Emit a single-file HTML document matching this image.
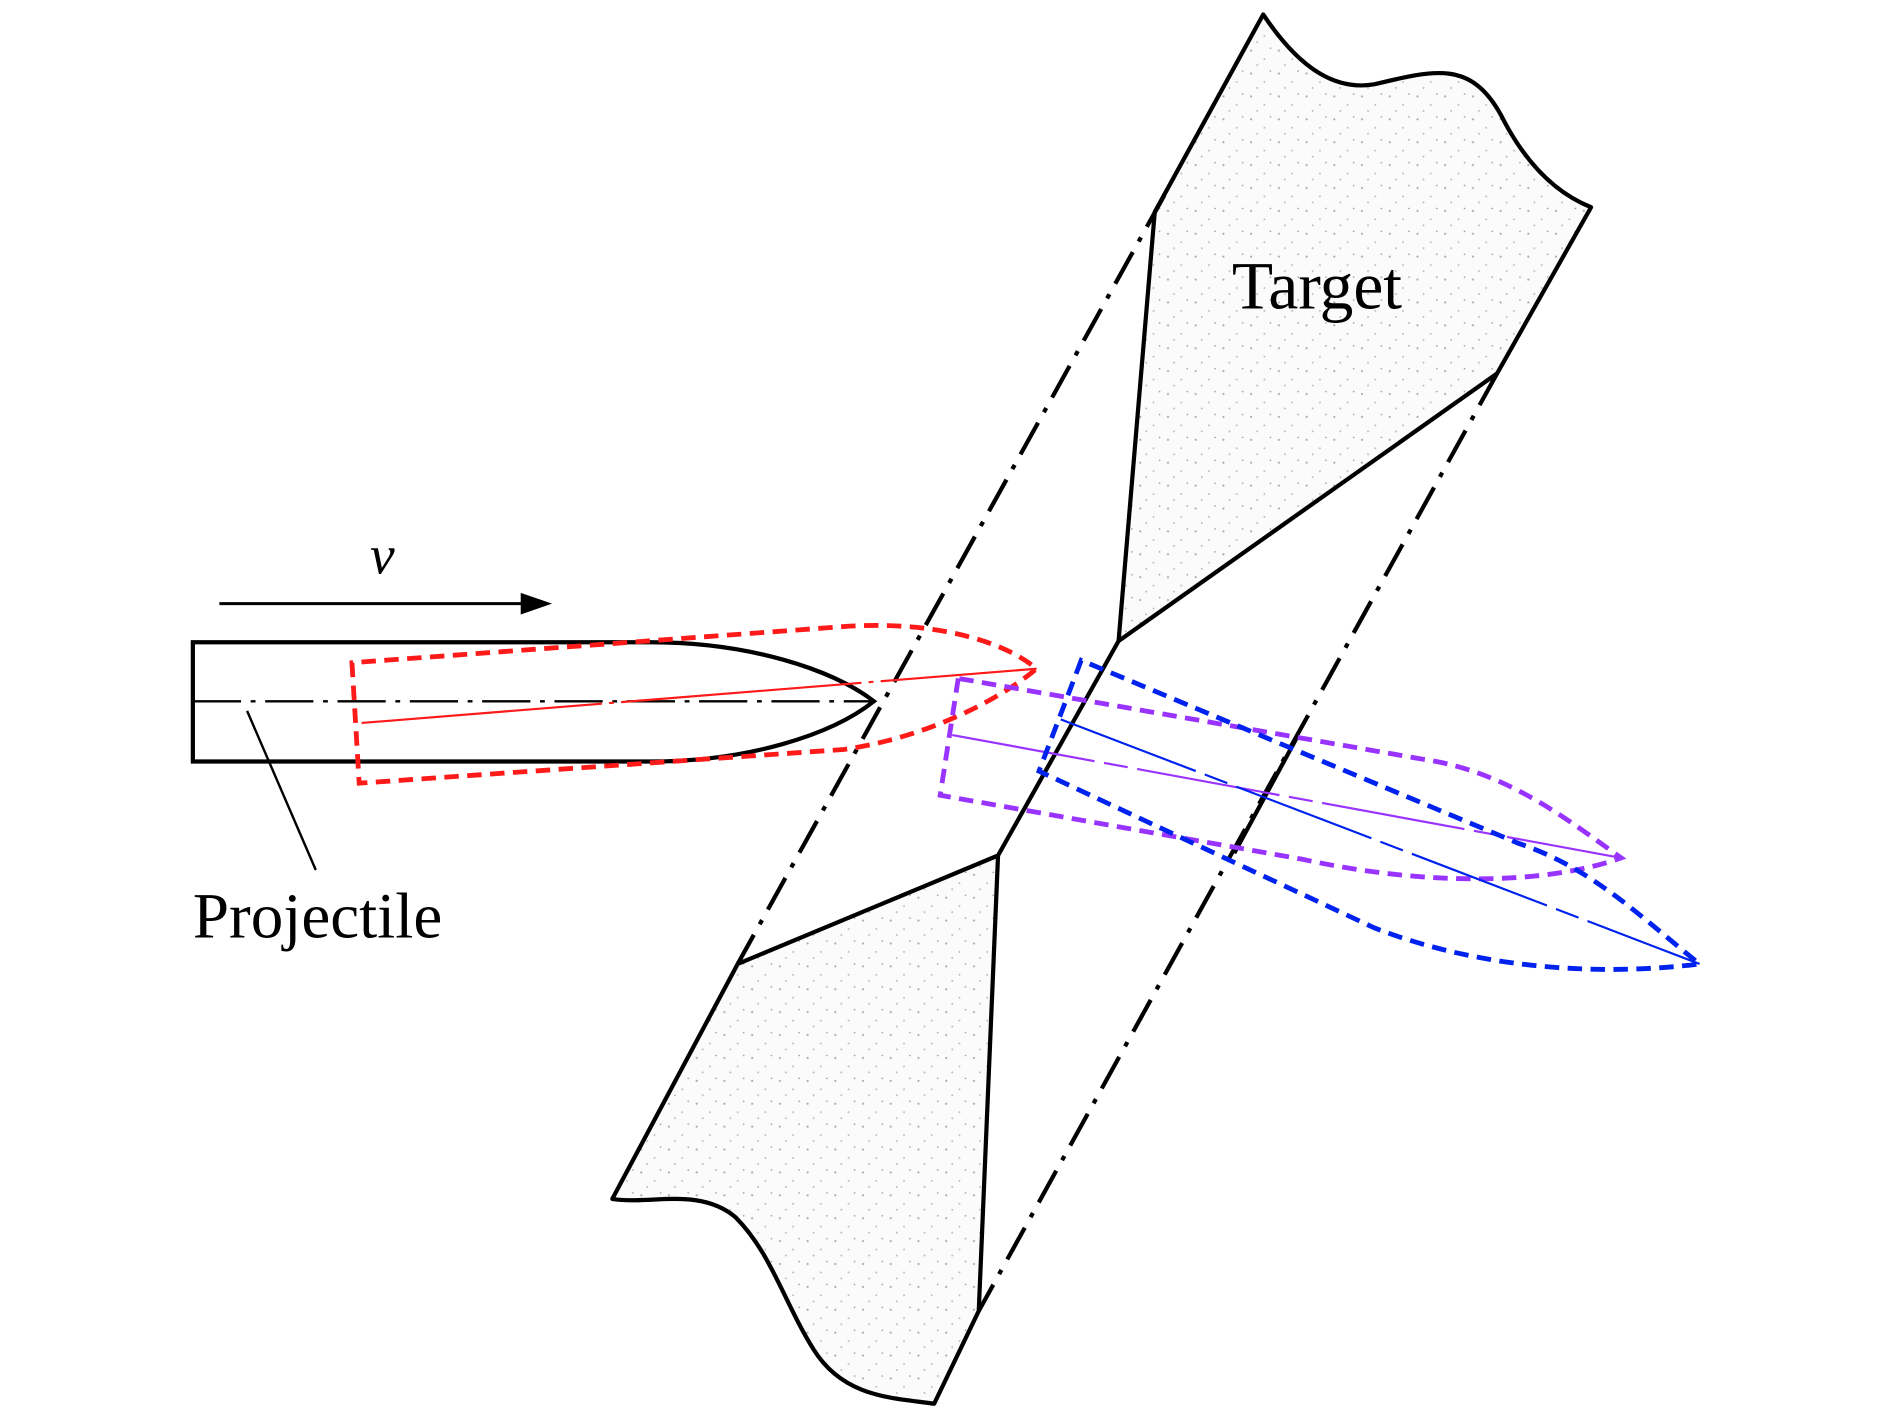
<!DOCTYPE html>
<html><head><style>html,body{margin:0;padding:0;background:#fff;}svg{display:block}</style></head>
<body>
<svg width="1890" height="1417" viewBox="0 0 1568 1176" preserveAspectRatio="none" xmlns="http://www.w3.org/2000/svg">
<defs>
<pattern id="dots" width="23" height="19" patternUnits="userSpaceOnUse">
<rect width="23" height="19" fill="#fbfbfb"/>
<circle cx="3" cy="4" r="0.9" fill="#aaa"/><circle cx="14" cy="11" r="0.8" fill="#bbb"/><circle cx="19" cy="2" r="0.7" fill="#999"/><circle cx="8" cy="16" r="0.8" fill="#bbb"/>
</pattern>
</defs>
<g stroke="#000" stroke-width="3.5" fill="url(#dots)" stroke-linejoin="round">
<path d="M1048,12 C1080,60 1110,75 1140,70 C1190,58 1220,50 1245,95 C1265,135 1290,160 1320,172 L1242,310 L928,532 L958,176 Z"/>
<path d="M612,800 L828,710 L812,1088 L775,1165 C740,1160 700,1160 675,1120 C650,1080 640,1040 610,1010 C580,985 540,1000 508,995 Z"/>
</g>
<g stroke="#000" stroke-width="3.5" fill="none">
<line x1="966" y1="162" x2="612" y2="800" stroke-dasharray="30,10,4,10"/>
<line x1="1242" y1="310" x2="812" y2="1088" stroke-dasharray="30,10,4,10"/>
<line x1="1076" y1="612" x2="1024" y2="708"/>
<line x1="928" y1="532" x2="828" y2="710"/>
<path d="M160,533 L160,632 L540,632 C620,632 690,610 725,582 C690,555 620,533 540,533 Z"/>
<line x1="160" y1="582" x2="725" y2="582" stroke-width="2" stroke-dasharray="40,8,4,8"/>
<line x1="205" y1="590" x2="262" y2="722" stroke-width="2"/>
<line x1="182" y1="501" x2="435" y2="501" stroke-width="2.5"/>
</g>
<path d="M432,492 L458,501 L432,510 Z" fill="#000"/>
<g fill="none" stroke="#ff1a1a" stroke-width="4" stroke-dasharray="12,7">
<path d="M292,550 L298,650 L700,622 C770,612 830,580 860,555 C830,530 770,515 700,520 Z"/>
</g>
<line x1="300" y1="600" x2="860" y2="555" stroke="#ff1a1a" stroke-width="1.8" stroke-dasharray="200,6,4,6"/>
<g fill="none" stroke="#9933ff" stroke-width="4" stroke-dasharray="12,7">
<path d="M795,563 L780,660 L1080,713 C1180,735 1280,735 1345,712 C1300,680 1250,640 1180,630 Z"/>
</g>
<line x1="790" y1="610" x2="1345" y2="712" stroke="#9933ff" stroke-width="1.8" stroke-dasharray="120,8,20,8"/>
<g fill="none" stroke="#0022ee" stroke-width="4" stroke-dasharray="12,7">
<path d="M897,548 L862,640 L1140,770 C1230,805 1330,810 1410,800 C1360,760 1320,720 1260,700 Z"/>
</g>
<line x1="880" y1="597" x2="1410" y2="800" stroke="#0022ee" stroke-width="1.8" stroke-dasharray="120,8,20,8"/>
<g font-family="Liberation Serif, serif" fill="#000">
<text x="1022" y="256" font-size="56">Target</text>
<text x="160" y="778" font-size="54">Projectile</text>
<text x="307" y="476" font-size="46" font-style="italic">v</text>
</g>
</svg>
</body></html>
